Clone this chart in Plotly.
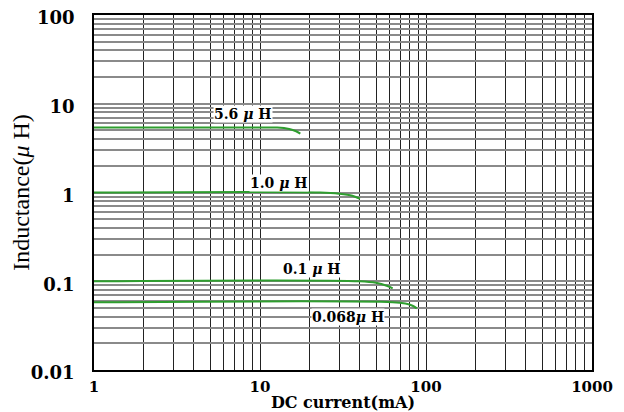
import math
import plotly.graph_objects as go

# ---- data ----
x_56 = [1, 10, 12.7, 15, 16.5, 17.5]
y_56 = [5.4, 5.4, 5.4, 5.2, 4.9, 4.6]

x_10 = [1, 23, 30, 36, 40]
y_10 = [1.0, 1.0, 0.97, 0.92, 0.85]

x_01 = [1, 40, 50, 58, 63]
y_01 = [0.1, 0.1, 0.096, 0.089, 0.083]

x_068 = [1, 63, 75, 83, 88]
y_068 = [0.058, 0.058, 0.056, 0.053, 0.0495]

series = [
    ("5.6 μ H", x_56, y_56),
    ("1.0 μ H", x_10, y_10),
    ("0.1 μ H", x_01, y_01),
    ("0.068μ H", x_068, y_068),
]

label_text = ["5.6 <i>μ</i> H", "1.0 <i>μ</i> H", "0.1 <i>μ</i> H", "0.068<i>μ</i> H"]
label_x = [7.9, 13, 20.5, 34]
label_y = [7.6, 1.28, 0.139, 0.0393]

x_major = [1, 10, 100, 1000]
y_major = [0.01, 0.1, 1, 10, 100]
x_major_text = ["1", "10", "100", "1000"]
y_major_text = ["0.01", "0.1", "1", "10", "100"]

# build full grid tick lists (1..9 per decade), labels only at decades
def grid_vals(lo_exp, hi_exp):
    vals = []
    for e in range(lo_exp, hi_exp):
        for m in range(1, 10):
            vals.append(round(m * 10 ** e, 6))
    vals.append(round(10 ** hi_exp, 6))
    return vals

xvals = grid_vals(0, 3)
yvals = grid_vals(-2, 2)
xtext = [x_major_text[x_major.index(v)] if v in x_major else "" for v in xvals]
ytext = [y_major_text[y_major.index(v)] if v in y_major else "" for v in yvals]

fig = go.Figure()
for name, xs, ys in series:
    fig.add_trace(go.Scatter(x=xs, y=ys, mode="lines", name=name,
                             line=dict(color="#2f9e2f", width=2, shape="spline"),
                             showlegend=False, hoverinfo="skip"))

for t, lx, ly in zip(label_text, label_x, label_y):
    fig.add_annotation(x=math.log10(lx), y=math.log10(ly),
                       text=t, showarrow=False, bgcolor="white",
                       font=dict(family="DejaVu Serif", size=14, color="black", weight="bold"),
                       borderpad=0)

fig.update_xaxes(type="log", range=[0, 3], tickvals=xvals, ticktext=xtext,
                 automargin=False, ticklabeloverflow="allow",
                 showgrid=True, gridcolor="#222222", gridwidth=1.2,
                 showline=True, linecolor="black", linewidth=1.5, mirror=True,
                 ticks="", ticklabelstandoff=2,
                 tickfont=dict(family="DejaVu Serif", size=15, color="black", weight="bold"),
                 title=dict(text="DC current(mA)", standoff=0,
                            font=dict(family="DejaVu Serif", size=16, color="black", weight="bold")),
                 zeroline=False)
fig.update_yaxes(type="log", range=[-2, 2], tickvals=yvals, ticktext=ytext,
                 automargin=False, ticklabeloverflow="allow", ticklabelshift=3,
                 showgrid=True, gridcolor="#8a8a8a", gridwidth=1.6,
                 showline=True, linecolor="black", linewidth=1.5, mirror=True,
                 ticks="", ticklabelstandoff=14,
                 tickfont=dict(family="DejaVu Serif", size=18, color="black", weight="bold"),
                 title=dict(text="Inductance(<i>μ</i> H)", standoff=4,
                            font=dict(family="Liberation Serif", size=24, color="black")),
                 zeroline=False)

# page body has an 8px margin, so the figure is offset by 8px right/down
fig.update_layout(width=616, height=404, margin=dict(l=86, r=32, t=7, b=42),
                  paper_bgcolor="white", plot_bgcolor="white")

fig.write_html("out.html")
